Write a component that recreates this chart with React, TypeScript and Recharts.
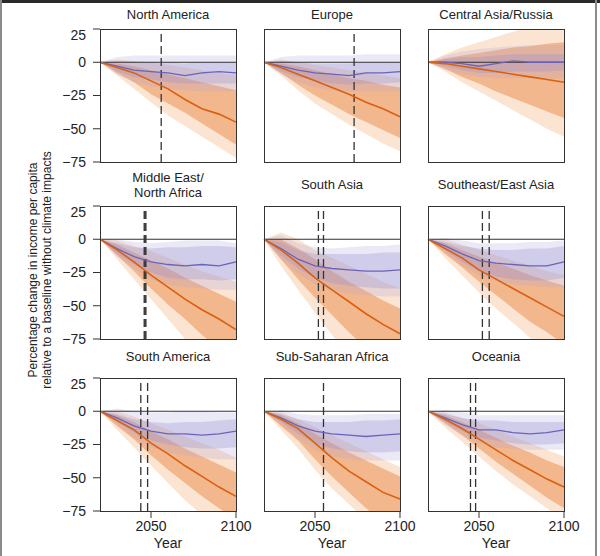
import React from 'react';
import { ComposedChart, Area, Line, XAxis, YAxis, ReferenceLine } from 'recharts';

const FONT = '"Liberation Sans", Arial, Helvetica, sans-serif';

const years = [2020, 2030, 2040, 2050, 2060, 2070, 2080, 2090, 2100];

const regions = [
  'North America',
  'Europe',
  'Central Asia/Russia',
  'Middle East/\nNorth Africa',
  'South Asia',
  'Southeast/East Asia',
  'South America',
  'Sub-Saharan Africa',
  'Oceania',
];

// median, orange = full warming scenario
const orangeMid = [
  [0, -4, -8, -14, -20, -28, -35, -39, -45],
  [0, -4, -9, -14, -19, -24, -30, -35, -41],
  [0, -1, -3, -5, -7, -9, -11, -13, -15],
  [0, -8, -17, -27, -36, -45, -53, -60, -68],
  [0, -8, -18, -29, -38, -47, -56, -64, -71],
  [0, -7, -14, -23, -30, -37, -44, -51, -58],
  [0, -7, -14, -24, -32, -41, -49, -57, -64],
  [0, -6, -13, -24, -35, -45, -53, -61, -66],
  [0, -6, -13, -21, -29, -37, -44, -51, -57],
];
const orangeInHi = [
  [0, -1, -3, -6, -9, -12, -15, -18, -21],
  [0, -1, -3, -6, -9, -12, -14, -17, -19],
  [0, 3, 5, 7, 9, 11, 12, 14, 15],
  [0, -4, -10, -16, -22, -29, -35, -41, -47],
  [0, 0, -7, -15, -24, -32, -39, -46, -52],
  [0, -3, -8, -13, -18, -22, -27, -31, -35],
  [0, -3, -8, -15, -21, -28, -34, -40, -46],
  [0, -3, -9, -17, -24, -31, -37, -43, -49],
  [0, -3, -8, -14, -20, -26, -31, -37, -42],
];
const orangeInLo = [
  [0, -8, -15, -24, -31, -38, -46, -54, -62],
  [0, -8, -17, -25, -32, -39, -45, -51, -57],
  [0, -5, -11, -16, -22, -27, -32, -37, -42],
  [0, -12, -24, -37, -49, -60, -72, -82, -90],
  [0, -15, -30, -44, -57, -70, -82, -94, -105],
  [0, -11, -21, -32, -42, -52, -62, -70, -79],
  [0, -11, -21, -33, -44, -54, -64, -73, -81],
  [0, -11, -22, -36, -49, -61, -73, -83, -92],
  [0, -9, -18, -28, -38, -47, -56, -65, -73],
];
const orangeOutHi = [
  [0, 2, 1, 0, -2, -4, -6, -8, -10],
  [0, 2, 0, -2, -4, -6, -8, -10, -12],
  [0, 6, 11, 15, 19, 23, 27, 30, 32],
  [0, -1, -5, -9, -14, -19, -24, -28, -32],
  [0, 5, 0, -8, -14, -20, -26, -32, -37],
  [0, 0, -4, -8, -12, -16, -20, -24, -27],
  [0, 0, -4, -9, -14, -19, -24, -29, -35],
  [0, -1, -6, -12, -18, -24, -30, -36, -42],
  [0, -1, -5, -9, -14, -19, -24, -29, -34],
];
const orangeOutLo = [
  [0, -10, -20, -30, -40, -48, -56, -64, -72],
  [0, -10, -21, -31, -39, -47, -54, -61, -67],
  [0, -7, -15, -22, -29, -36, -43, -50, -56],
  [0, -15, -30, -45, -60, -75, -88, -100, -110],
  [0, -20, -38, -55, -72, -88, -102, -115, -128],
  [0, -14, -27, -40, -52, -63, -74, -84, -92],
  [0, -14, -27, -41, -54, -67, -78, -88, -97],
  [0, -14, -28, -44, -58, -70, -82, -93, -103],
  [0, -12, -23, -34, -45, -55, -64, -73, -82],
];

// median, purple = mitigation scenario
const purpleMid = [
  [0, -3, -6, -7, -8, -10, -8, -7, -8],
  [0, -3, -6, -8, -9, -10, -8, -8, -7],
  [0, 0, -1, -3, -1, 1, 0, 0, 0],
  [0, -7, -13, -17, -19, -20, -19, -20, -17],
  [0, -7, -15, -20, -22, -23, -24, -24, -23],
  [0, -5, -11, -16, -18, -19, -20, -20, -17],
  [0, -5, -11, -15, -17, -17, -18, -17, -15],
  [0, -5, -11, -15, -17, -18, -19, -18, -17],
  [0, -5, -10, -14, -14, -16, -17, -16, -14],
];
const purpleInHi = [
  [0, 1, 0, 0, 0, -1, 0, 0, 0],
  [0, 1, 0, -1, -1, -1, 0, 0, 0],
  [0, 2, 4, 4, 5, 6, 6, 6, 6],
  [0, -3, -6, -7, -6, -6, -5, -5, -6],
  [0, -2, -8, -11, -11, -11, -11, -10, -10],
  [0, -2, -5, -7, -8, -8, -7, -7, -5],
  [0, -2, -6, -8, -9, -8, -8, -7, -6],
  [0, -2, -6, -8, -8, -8, -7, -7, -6],
  [0, -2, -5, -7, -7, -8, -8, -8, -8],
];
const purpleInLo = [
  [0, -7, -11, -13, -15, -16, -16, -16, -16],
  [0, -7, -11, -14, -16, -17, -16, -16, -15],
  [0, -3, -6, -8, -8, -7, -7, -7, -6],
  [0, -11, -19, -25, -29, -30, -30, -31, -30],
  [0, -12, -22, -29, -33, -35, -36, -37, -37],
  [0, -8, -17, -24, -28, -30, -31, -31, -29],
  [0, -8, -16, -22, -25, -27, -28, -28, -27],
  [0, -8, -17, -24, -28, -30, -31, -31, -30],
  [0, -8, -15, -20, -22, -24, -25, -25, -24],
];
const purpleOutHi = [
  [0, 4, 5, 5, 5, 5, 5, 5, 5],
  [0, 4, 5, 5, 5, 5, 6, 6, 6],
  [0, 5, 8, 10, 11, 12, 13, 13, 13],
  [0, 0, -2, -3, -2, -1, -1, -1, -3],
  [0, 3, -3, -6, -7, -6, -5, -5, -4],
  [0, 1, -1, -3, -3, -3, -2, -2, -1],
  [0, 2, 0, -1, -1, 0, 0, -1, -1],
  [0, 1, -2, -3, -3, -3, -2, -2, -2],
  [0, 1, -1, -3, -3, -3, -3, -3, -3],
];
const purpleOutLo = [
  [0, -9, -15, -18, -20, -21, -22, -22, -22],
  [0, -9, -15, -19, -21, -22, -22, -22, -22],
  [0, -5, -9, -11, -12, -12, -12, -12, -12],
  [0, -13, -22, -30, -34, -36, -37, -38, -38],
  [0, -15, -26, -34, -39, -41, -42, -43, -43],
  [0, -10, -20, -27, -32, -34, -35, -36, -36],
  [0, -10, -20, -27, -31, -33, -35, -36, -36],
  [0, -10, -21, -29, -34, -36, -37, -37, -37],
  [0, -10, -18, -24, -27, -28, -29, -29, -29],
];

// years where the dashed markers sit
const markerYears = [
  [2056],
  [2073],
  [],
  [2046, 2046.5, 2047],
  [2052, 2055],
  [2052, 2056],
  [2044, 2048],
  [2055],
  [2045, 2048],
];

const yTicks = [-75, -50, -25, 0, 25];
const xTicks = [2050, 2100];

const colLeft = [100, 264, 428];
const rowTop = [29, 206, 378];
const titleY = [15, 185, 357];
const PW = 136;
const PH = 133;
const YW = 45;
const XH = 30;
const MT = 2;
const MR = 24;

const ORANGE = '#d9600f';
const PURPLE = '#6b63b8';

const minus = (v: number) => String(v).replace('-', '\u2212');

function Panel({ r }: { r: number }) {
  const col = r % 3;
  const row = Math.floor(r / 3);
  const left = colLeft[col];
  const top = rowTop[row];
  const showX = row === 2;
  const showY = col === 0;

  const data = years.map((year, i) => ({
    year,
    oOut: [orangeOutLo[r][i], orangeOutHi[r][i]],
    oIn: [orangeInLo[r][i], orangeInHi[r][i]],
    pOut: [purpleOutLo[r][i], purpleOutHi[r][i]],
    pIn: [purpleInLo[r][i], purpleInHi[r][i]],
    oMid: orangeMid[r][i],
    pMid: purpleMid[r][i],
  }));

  const tickStyle = { fontSize: 14, fill: '#222', fontFamily: FONT };

  return (
    <>
      <div style={{ position: 'absolute', left: left - YW, top: top - MT }}>
        <ComposedChart
          width={YW + PW + MR}
          height={MT + PH + XH}
          data={data}
          margin={{ top: MT, right: MR, bottom: 0, left: 0 }}
        >
          <XAxis
            type="number"
            dataKey="year"
            domain={[2020, 2100]}
            ticks={xTicks}
            height={XH}
            axisLine={false}
            tickSize={7}
            tickLine={{ stroke: '#333' }}
            tick={showX ? tickStyle : false}
            tickMargin={3}
          />
          <YAxis
            type="number"
            domain={[-75, 25]}
            ticks={yTicks}
            allowDataOverflow
            width={YW}
            axisLine={false}
            tickSize={7}
            tickLine={{ stroke: '#333' }}
            tick={showY ? tickStyle : false}
            tickFormatter={minus}
            tickMargin={7}
          />
          <Area dataKey="oOut" stroke="none" fill="#f4a46a" fillOpacity={0.3} isAnimationActive={false} />
          <Area dataKey="oIn" stroke="none" fill="#e8803a" fillOpacity={0.45} isAnimationActive={false} />
          <Area dataKey="pOut" stroke="none" fill="#aaa5d9" fillOpacity={0.24} isAnimationActive={false} />
          <Area dataKey="pIn" stroke="none" fill="#938dcf" fillOpacity={0.3} isAnimationActive={false} />
          <ReferenceLine y={0} stroke="#333" strokeWidth={1} />
          {markerYears[r].map((yr) => (
            <ReferenceLine key={yr} x={yr} stroke="#333" strokeWidth={1.3} strokeDasharray="8 4" />
          ))}
          <Line dataKey="pMid" stroke={PURPLE} strokeWidth={1.3} dot={false} isAnimationActive={false} />
          <Line dataKey="oMid" stroke={ORANGE} strokeWidth={1.6} dot={false} isAnimationActive={false} />
        </ComposedChart>
      </div>
      <div
        style={{
          position: 'absolute',
          left,
          top,
          width: PW + 1,
          height: PH + 1,
          border: '1px solid #333',
          boxSizing: 'border-box',
          pointerEvents: 'none',
        }}
      />
      <div
        style={{
          position: 'absolute',
          left: left - 40,
          width: PW + 80,
          top: titleY[row] - (regions[r].includes('\n') ? 15 : 8),
          textAlign: 'center',
          fontFamily: FONT,
          fontSize: 13,
          lineHeight: '15px',
          color: '#222',
          whiteSpace: 'pre',
        }}
      >
        {regions[r]}
      </div>
      {showX && (
        <div
          style={{
            position: 'absolute',
            left,
            width: PW,
            top: 535,
            textAlign: 'center',
            fontFamily: FONT,
            fontSize: 14,
            color: '#222',
          }}
        >
          Year
        </div>
      )}
    </>
  );
}

export default function App() {
  return (
    <div
      style={{
        position: 'absolute',
        left: 0,
        top: 0,
        width: 600,
        height: 556,
        background: '#fff',
        overflow: 'hidden',
      }}
    >
      <div style={{ position: 'absolute', left: 0, top: 0, width: 600, height: 3, background: '#2a2a2a' }} />
      <div style={{ position: 'absolute', left: 0, top: 0, width: 2, height: 556, background: '#8a8a8a' }} />
      <div style={{ position: 'absolute', left: 595, top: 0, width: 2, height: 556, background: '#8a8a8a' }} />
      {regions.map((_, r) => (
        <Panel key={r} r={r} />
      ))}
      <div
        style={{
          position: 'absolute',
          left: 40 - 150,
          top: 270 - 14,
          width: 300,
          height: 28,
          transform: 'rotate(-90deg)',
          textAlign: 'center',
          fontFamily: FONT,
          fontSize: 12,
          lineHeight: '14px',
          color: '#222',
        }}
      >
        Percentage change in income per capita
        <br />
        relative to a baseline without climate impacts
      </div>
    </div>
  );
}
